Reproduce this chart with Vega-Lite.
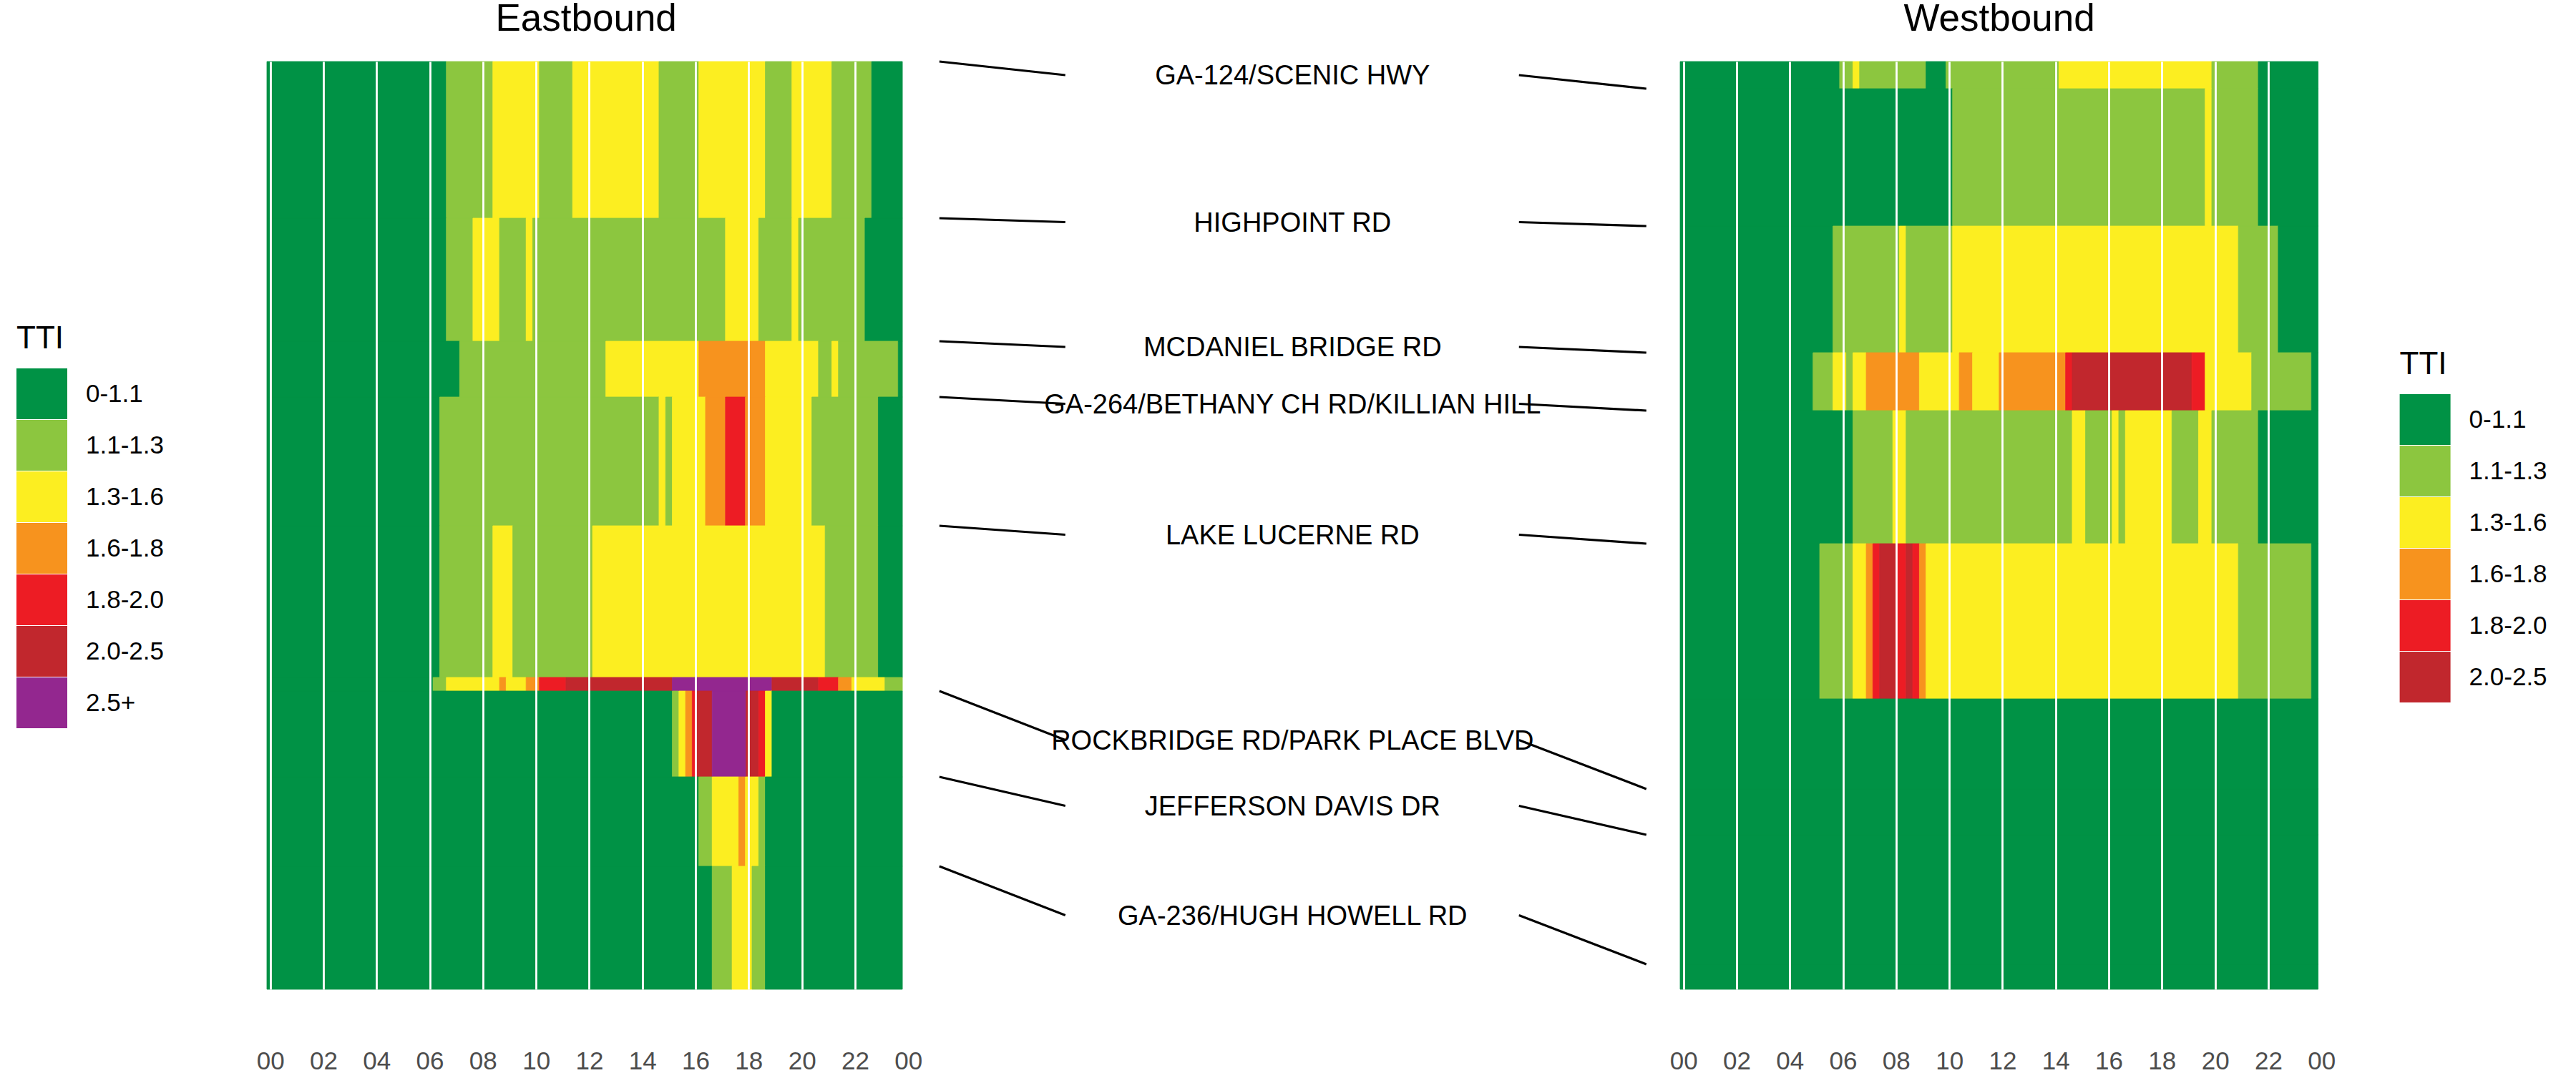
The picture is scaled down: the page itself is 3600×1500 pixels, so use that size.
{
  "$schema": "https://vega.github.io/schema/vega-lite/v6.json",
  "background": "white",
  "padding": {"left": 23, "top": 0, "right": 20, "bottom": 0},
  "bounds": "flush",
  "spacing": 40,
  "config": {
    "font": "Liberation Sans",
    "view": {"stroke": null},
    "legend": {
      "titleFontSize": 44,
      "titleFontWeight": "normal",
      "titleColor": "black",
      "titlePadding": 19,
      "labelFontSize": 35,
      "labelColor": "black",
      "labelOffset": 26,
      "labelLimit": 400,
      "symbolType": "square",
      "symbolSize": 5041,
      "symbolStrokeWidth": 0,
      "symbolOpacity": 1,
      "rowPadding": 1,
      "padding": 0
    }
  },
  "datasets": {
    "eastbound": [
      {"seg": "A", "d0": 0, "d1": 2.19, "t0": -0.125, "t1": 6.625, "tti": "0-1.1"},
      {"seg": "A", "d0": 0, "d1": 2.19, "t0": 6.625, "t1": 8.375, "tti": "1.1-1.3"},
      {"seg": "A", "d0": 0, "d1": 2.19, "t0": 8.375, "t1": 10.125, "tti": "1.3-1.6"},
      {"seg": "A", "d0": 0, "d1": 2.19, "t0": 10.125, "t1": 11.375, "tti": "1.1-1.3"},
      {"seg": "A", "d0": 0, "d1": 2.19, "t0": 11.375, "t1": 14.625, "tti": "1.3-1.6"},
      {"seg": "A", "d0": 0, "d1": 2.19, "t0": 14.625, "t1": 16.125, "tti": "1.1-1.3"},
      {"seg": "A", "d0": 0, "d1": 2.19, "t0": 16.125, "t1": 18.625, "tti": "1.3-1.6"},
      {"seg": "A", "d0": 0, "d1": 2.19, "t0": 18.625, "t1": 19.625, "tti": "1.1-1.3"},
      {"seg": "A", "d0": 0, "d1": 2.19, "t0": 19.625, "t1": 21.125, "tti": "1.3-1.6"},
      {"seg": "A", "d0": 0, "d1": 2.19, "t0": 21.125, "t1": 22.625, "tti": "1.1-1.3"},
      {"seg": "A", "d0": 0, "d1": 2.19, "t0": 22.625, "t1": 23.78, "tti": "0-1.1"},

      {"seg": "B", "d0": 2.19, "d1": 3.91, "t0": -0.125, "t1": 6.625, "tti": "0-1.1"},
      {"seg": "B", "d0": 2.19, "d1": 3.91, "t0": 6.625, "t1": 7.625, "tti": "1.1-1.3"},
      {"seg": "B", "d0": 2.19, "d1": 3.91, "t0": 7.625, "t1": 8.625, "tti": "1.3-1.6"},
      {"seg": "B", "d0": 2.19, "d1": 3.91, "t0": 8.625, "t1": 9.625, "tti": "1.1-1.3"},
      {"seg": "B", "d0": 2.19, "d1": 3.91, "t0": 9.625, "t1": 9.875, "tti": "1.3-1.6"},
      {"seg": "B", "d0": 2.19, "d1": 3.91, "t0": 9.875, "t1": 17.125, "tti": "1.1-1.3"},
      {"seg": "B", "d0": 2.19, "d1": 3.91, "t0": 17.125, "t1": 18.375, "tti": "1.3-1.6"},
      {"seg": "B", "d0": 2.19, "d1": 3.91, "t0": 18.375, "t1": 19.625, "tti": "1.1-1.3"},
      {"seg": "B", "d0": 2.19, "d1": 3.91, "t0": 19.625, "t1": 19.875, "tti": "1.3-1.6"},
      {"seg": "B", "d0": 2.19, "d1": 3.91, "t0": 19.875, "t1": 22.375, "tti": "1.1-1.3"},
      {"seg": "B", "d0": 2.19, "d1": 3.91, "t0": 22.375, "t1": 23.78, "tti": "0-1.1"},

      {"seg": "C", "d0": 3.91, "d1": 4.69, "t0": -0.125, "t1": 7.125, "tti": "0-1.1"},
      {"seg": "C", "d0": 3.91, "d1": 4.69, "t0": 7.125, "t1": 12.625, "tti": "1.1-1.3"},
      {"seg": "C", "d0": 3.91, "d1": 4.69, "t0": 12.625, "t1": 16.125, "tti": "1.3-1.6"},
      {"seg": "C", "d0": 3.91, "d1": 4.69, "t0": 16.125, "t1": 18.625, "tti": "1.6-1.8"},
      {"seg": "C", "d0": 3.91, "d1": 4.69, "t0": 18.625, "t1": 20.625, "tti": "1.3-1.6"},
      {"seg": "C", "d0": 3.91, "d1": 4.69, "t0": 20.625, "t1": 21.125, "tti": "1.1-1.3"},
      {"seg": "C", "d0": 3.91, "d1": 4.69, "t0": 21.125, "t1": 21.375, "tti": "1.3-1.6"},
      {"seg": "C", "d0": 3.91, "d1": 4.69, "t0": 21.375, "t1": 23.625, "tti": "1.1-1.3"},
      {"seg": "C", "d0": 3.91, "d1": 4.69, "t0": 23.625, "t1": 23.78, "tti": "0-1.1"},

      {"seg": "D", "d0": 4.69, "d1": 6.49, "t0": -0.125, "t1": 6.375, "tti": "0-1.1"},
      {"seg": "D", "d0": 4.69, "d1": 6.49, "t0": 6.375, "t1": 14.625, "tti": "1.1-1.3"},
      {"seg": "D", "d0": 4.69, "d1": 6.49, "t0": 14.625, "t1": 14.875, "tti": "1.3-1.6"},
      {"seg": "D", "d0": 4.69, "d1": 6.49, "t0": 14.875, "t1": 15.125, "tti": "1.1-1.3"},
      {"seg": "D", "d0": 4.69, "d1": 6.49, "t0": 15.125, "t1": 16.375, "tti": "1.3-1.6"},
      {"seg": "D", "d0": 4.69, "d1": 6.49, "t0": 16.375, "t1": 17.125, "tti": "1.6-1.8"},
      {"seg": "D", "d0": 4.69, "d1": 6.49, "t0": 17.125, "t1": 17.875, "tti": "1.8-2.0"},
      {"seg": "D", "d0": 4.69, "d1": 6.49, "t0": 17.875, "t1": 18.625, "tti": "1.6-1.8"},
      {"seg": "D", "d0": 4.69, "d1": 6.49, "t0": 18.625, "t1": 20.375, "tti": "1.3-1.6"},
      {"seg": "D", "d0": 4.69, "d1": 6.49, "t0": 20.375, "t1": 22.875, "tti": "1.1-1.3"},
      {"seg": "D", "d0": 4.69, "d1": 6.49, "t0": 22.875, "t1": 23.78, "tti": "0-1.1"},

      {"seg": "E", "d0": 6.49, "d1": 8.61, "t0": -0.125, "t1": 6.375, "tti": "0-1.1"},
      {"seg": "E", "d0": 6.49, "d1": 8.61, "t0": 6.375, "t1": 8.375, "tti": "1.1-1.3"},
      {"seg": "E", "d0": 6.49, "d1": 8.61, "t0": 8.375, "t1": 9.125, "tti": "1.3-1.6"},
      {"seg": "E", "d0": 6.49, "d1": 8.61, "t0": 9.125, "t1": 12.125, "tti": "1.1-1.3"},
      {"seg": "E", "d0": 6.49, "d1": 8.61, "t0": 12.125, "t1": 20.875, "tti": "1.3-1.6"},
      {"seg": "E", "d0": 6.49, "d1": 8.61, "t0": 20.875, "t1": 22.875, "tti": "1.1-1.3"},
      {"seg": "E", "d0": 6.49, "d1": 8.61, "t0": 22.875, "t1": 23.78, "tti": "0-1.1"},

      {"seg": "F", "d0": 8.61, "d1": 8.8, "t0": -0.125, "t1": 6.125, "tti": "0-1.1"},
      {"seg": "F", "d0": 8.61, "d1": 8.8, "t0": 6.125, "t1": 6.625, "tti": "1.1-1.3"},
      {"seg": "F", "d0": 8.61, "d1": 8.8, "t0": 6.625, "t1": 8.625, "tti": "1.3-1.6"},
      {"seg": "F", "d0": 8.61, "d1": 8.8, "t0": 8.625, "t1": 8.875, "tti": "1.6-1.8"},
      {"seg": "F", "d0": 8.61, "d1": 8.8, "t0": 8.875, "t1": 9.625, "tti": "1.3-1.6"},
      {"seg": "F", "d0": 8.61, "d1": 8.8, "t0": 9.625, "t1": 10.125, "tti": "1.6-1.8"},
      {"seg": "F", "d0": 8.61, "d1": 8.8, "t0": 10.125, "t1": 11.125, "tti": "1.8-2.0"},
      {"seg": "F", "d0": 8.61, "d1": 8.8, "t0": 11.125, "t1": 15.125, "tti": "2.0-2.5"},
      {"seg": "F", "d0": 8.61, "d1": 8.8, "t0": 15.125, "t1": 18.875, "tti": "2.5+"},
      {"seg": "F", "d0": 8.61, "d1": 8.8, "t0": 18.875, "t1": 20.625, "tti": "2.0-2.5"},
      {"seg": "F", "d0": 8.61, "d1": 8.8, "t0": 20.625, "t1": 21.375, "tti": "1.8-2.0"},
      {"seg": "F", "d0": 8.61, "d1": 8.8, "t0": 21.375, "t1": 21.875, "tti": "1.6-1.8"},
      {"seg": "F", "d0": 8.61, "d1": 8.8, "t0": 21.875, "t1": 23.125, "tti": "1.3-1.6"},
      {"seg": "F", "d0": 8.61, "d1": 8.8, "t0": 23.125, "t1": 23.78, "tti": "1.1-1.3"},

      {"seg": "G", "d0": 8.8, "d1": 10.0, "t0": -0.125, "t1": 15.125, "tti": "0-1.1"},
      {"seg": "G", "d0": 8.8, "d1": 10.0, "t0": 15.125, "t1": 15.375, "tti": "1.1-1.3"},
      {"seg": "G", "d0": 8.8, "d1": 10.0, "t0": 15.375, "t1": 15.625, "tti": "1.3-1.6"},
      {"seg": "G", "d0": 8.8, "d1": 10.0, "t0": 15.625, "t1": 15.875, "tti": "1.6-1.8"},
      {"seg": "G", "d0": 8.8, "d1": 10.0, "t0": 15.875, "t1": 16.0, "tti": "1.8-2.0"},
      {"seg": "G", "d0": 8.8, "d1": 10.0, "t0": 16.0, "t1": 16.625, "tti": "2.0-2.5"},
      {"seg": "G", "d0": 8.8, "d1": 10.0, "t0": 16.625, "t1": 17.9, "tti": "2.5+"},
      {"seg": "G", "d0": 8.8, "d1": 10.0, "t0": 17.9, "t1": 18.375, "tti": "2.0-2.5"},
      {"seg": "G", "d0": 8.8, "d1": 10.0, "t0": 18.375, "t1": 18.625, "tti": "1.8-2.0"},
      {"seg": "G", "d0": 8.8, "d1": 10.0, "t0": 18.625, "t1": 18.875, "tti": "1.3-1.6"},
      {"seg": "G", "d0": 8.8, "d1": 10.0, "t0": 18.875, "t1": 23.78, "tti": "0-1.1"},

      {"seg": "H", "d0": 10.0, "d1": 11.25, "t0": -0.125, "t1": 16.125, "tti": "0-1.1"},
      {"seg": "H", "d0": 10.0, "d1": 11.25, "t0": 16.125, "t1": 16.625, "tti": "1.1-1.3"},
      {"seg": "H", "d0": 10.0, "d1": 11.25, "t0": 16.625, "t1": 17.625, "tti": "1.3-1.6"},
      {"seg": "H", "d0": 10.0, "d1": 11.25, "t0": 17.625, "t1": 17.875, "tti": "1.6-1.8"},
      {"seg": "H", "d0": 10.0, "d1": 11.25, "t0": 17.875, "t1": 18.375, "tti": "1.3-1.6"},
      {"seg": "H", "d0": 10.0, "d1": 11.25, "t0": 18.375, "t1": 18.625, "tti": "1.1-1.3"},
      {"seg": "H", "d0": 10.0, "d1": 11.25, "t0": 18.625, "t1": 23.78, "tti": "0-1.1"},

      {"seg": "I", "d0": 11.25, "d1": 12.97, "t0": -0.125, "t1": 16.625, "tti": "0-1.1"},
      {"seg": "I", "d0": 11.25, "d1": 12.97, "t0": 16.625, "t1": 17.375, "tti": "1.1-1.3"},
      {"seg": "I", "d0": 11.25, "d1": 12.97, "t0": 17.375, "t1": 18.125, "tti": "1.3-1.6"},
      {"seg": "I", "d0": 11.25, "d1": 12.97, "t0": 18.125, "t1": 18.625, "tti": "1.1-1.3"},
      {"seg": "I", "d0": 11.25, "d1": 12.97, "t0": 18.625, "t1": 23.78, "tti": "0-1.1"}
    ],
    "westbound": [
      {"seg": "A", "d0": 0, "d1": 0.38, "t0": -0.125, "t1": 5.875, "tti": "0-1.1"},
      {"seg": "A", "d0": 0, "d1": 0.38, "t0": 5.875, "t1": 6.375, "tti": "1.1-1.3"},
      {"seg": "A", "d0": 0, "d1": 0.38, "t0": 6.375, "t1": 6.625, "tti": "1.3-1.6"},
      {"seg": "A", "d0": 0, "d1": 0.38, "t0": 6.625, "t1": 9.125, "tti": "1.1-1.3"},
      {"seg": "A", "d0": 0, "d1": 0.38, "t0": 9.125, "t1": 9.875, "tti": "0-1.1"},
      {"seg": "A", "d0": 0, "d1": 0.38, "t0": 9.875, "t1": 14.125, "tti": "1.1-1.3"},
      {"seg": "A", "d0": 0, "d1": 0.38, "t0": 14.125, "t1": 19.875, "tti": "1.3-1.6"},
      {"seg": "A", "d0": 0, "d1": 0.38, "t0": 19.875, "t1": 21.625, "tti": "1.1-1.3"},
      {"seg": "A", "d0": 0, "d1": 0.38, "t0": 21.625, "t1": 23.875, "tti": "0-1.1"},

      {"seg": "B", "d0": 0.38, "d1": 2.3, "t0": -0.125, "t1": 10.125, "tti": "0-1.1"},
      {"seg": "B", "d0": 0.38, "d1": 2.3, "t0": 10.125, "t1": 19.625, "tti": "1.1-1.3"},
      {"seg": "B", "d0": 0.38, "d1": 2.3, "t0": 19.625, "t1": 19.875, "tti": "1.3-1.6"},
      {"seg": "B", "d0": 0.38, "d1": 2.3, "t0": 19.875, "t1": 21.625, "tti": "1.1-1.3"},
      {"seg": "B", "d0": 0.38, "d1": 2.3, "t0": 21.625, "t1": 23.875, "tti": "0-1.1"},

      {"seg": "C", "d0": 2.3, "d1": 4.07, "t0": -0.125, "t1": 5.625, "tti": "0-1.1"},
      {"seg": "C", "d0": 2.3, "d1": 4.07, "t0": 5.625, "t1": 8.125, "tti": "1.1-1.3"},
      {"seg": "C", "d0": 2.3, "d1": 4.07, "t0": 8.125, "t1": 8.375, "tti": "1.3-1.6"},
      {"seg": "C", "d0": 2.3, "d1": 4.07, "t0": 8.375, "t1": 10.125, "tti": "1.1-1.3"},
      {"seg": "C", "d0": 2.3, "d1": 4.07, "t0": 10.125, "t1": 20.875, "tti": "1.3-1.6"},
      {"seg": "C", "d0": 2.3, "d1": 4.07, "t0": 20.875, "t1": 22.375, "tti": "1.1-1.3"},
      {"seg": "C", "d0": 2.3, "d1": 4.07, "t0": 22.375, "t1": 23.875, "tti": "0-1.1"},

      {"seg": "D", "d0": 4.07, "d1": 4.88, "t0": -0.125, "t1": 4.875, "tti": "0-1.1"},
      {"seg": "D", "d0": 4.07, "d1": 4.88, "t0": 4.875, "t1": 5.625, "tti": "1.1-1.3"},
      {"seg": "D", "d0": 4.07, "d1": 4.88, "t0": 5.625, "t1": 6.125, "tti": "1.3-1.6"},
      {"seg": "D", "d0": 4.07, "d1": 4.88, "t0": 6.125, "t1": 6.375, "tti": "1.1-1.3"},
      {"seg": "D", "d0": 4.07, "d1": 4.88, "t0": 6.375, "t1": 6.875, "tti": "1.3-1.6"},
      {"seg": "D", "d0": 4.07, "d1": 4.88, "t0": 6.875, "t1": 8.875, "tti": "1.6-1.8"},
      {"seg": "D", "d0": 4.07, "d1": 4.88, "t0": 8.875, "t1": 10.375, "tti": "1.3-1.6"},
      {"seg": "D", "d0": 4.07, "d1": 4.88, "t0": 10.375, "t1": 10.875, "tti": "1.6-1.8"},
      {"seg": "D", "d0": 4.07, "d1": 4.88, "t0": 10.875, "t1": 11.875, "tti": "1.3-1.6"},
      {"seg": "D", "d0": 4.07, "d1": 4.88, "t0": 11.875, "t1": 14.375, "tti": "1.6-1.8"},
      {"seg": "D", "d0": 4.07, "d1": 4.88, "t0": 14.375, "t1": 14.625, "tti": "1.8-2.0"},
      {"seg": "D", "d0": 4.07, "d1": 4.88, "t0": 14.625, "t1": 19.125, "tti": "2.0-2.5"},
      {"seg": "D", "d0": 4.07, "d1": 4.88, "t0": 19.125, "t1": 19.625, "tti": "1.8-2.0"},
      {"seg": "D", "d0": 4.07, "d1": 4.88, "t0": 19.625, "t1": 21.375, "tti": "1.3-1.6"},
      {"seg": "D", "d0": 4.07, "d1": 4.88, "t0": 21.375, "t1": 23.625, "tti": "1.1-1.3"},
      {"seg": "D", "d0": 4.07, "d1": 4.88, "t0": 23.625, "t1": 23.875, "tti": "0-1.1"},

      {"seg": "E", "d0": 4.88, "d1": 6.74, "t0": -0.125, "t1": 6.375, "tti": "0-1.1"},
      {"seg": "E", "d0": 4.88, "d1": 6.74, "t0": 6.375, "t1": 7.875, "tti": "1.1-1.3"},
      {"seg": "E", "d0": 4.88, "d1": 6.74, "t0": 7.875, "t1": 8.375, "tti": "1.3-1.6"},
      {"seg": "E", "d0": 4.88, "d1": 6.74, "t0": 8.375, "t1": 14.625, "tti": "1.1-1.3"},
      {"seg": "E", "d0": 4.88, "d1": 6.74, "t0": 14.625, "t1": 15.125, "tti": "1.3-1.6"},
      {"seg": "E", "d0": 4.88, "d1": 6.74, "t0": 15.125, "t1": 16.125, "tti": "1.1-1.3"},
      {"seg": "E", "d0": 4.88, "d1": 6.74, "t0": 16.125, "t1": 16.375, "tti": "1.3-1.6"},
      {"seg": "E", "d0": 4.88, "d1": 6.74, "t0": 16.375, "t1": 16.625, "tti": "1.1-1.3"},
      {"seg": "E", "d0": 4.88, "d1": 6.74, "t0": 16.625, "t1": 18.375, "tti": "1.3-1.6"},
      {"seg": "E", "d0": 4.88, "d1": 6.74, "t0": 18.375, "t1": 19.375, "tti": "1.1-1.3"},
      {"seg": "E", "d0": 4.88, "d1": 6.74, "t0": 19.375, "t1": 19.875, "tti": "1.3-1.6"},
      {"seg": "E", "d0": 4.88, "d1": 6.74, "t0": 19.875, "t1": 21.625, "tti": "1.1-1.3"},
      {"seg": "E", "d0": 4.88, "d1": 6.74, "t0": 21.625, "t1": 23.875, "tti": "0-1.1"},

      {"seg": "F", "d0": 6.74, "d1": 8.91, "t0": -0.125, "t1": 5.125, "tti": "0-1.1"},
      {"seg": "F", "d0": 6.74, "d1": 8.91, "t0": 5.125, "t1": 6.375, "tti": "1.1-1.3"},
      {"seg": "F", "d0": 6.74, "d1": 8.91, "t0": 6.375, "t1": 6.875, "tti": "1.3-1.6"},
      {"seg": "F", "d0": 6.74, "d1": 8.91, "t0": 6.875, "t1": 7.125, "tti": "1.6-1.8"},
      {"seg": "F", "d0": 6.74, "d1": 8.91, "t0": 7.125, "t1": 7.375, "tti": "1.8-2.0"},
      {"seg": "F", "d0": 6.74, "d1": 8.91, "t0": 7.375, "t1": 8.0, "tti": "2.0-2.5"},
      {"seg": "F", "d0": 6.74, "d1": 8.91, "t0": 8.0, "t1": 8.375, "tti": "1.8-2.0"},
      {"seg": "F", "d0": 6.74, "d1": 8.91, "t0": 8.375, "t1": 8.625, "tti": "2.0-2.5"},
      {"seg": "F", "d0": 6.74, "d1": 8.91, "t0": 8.625, "t1": 8.875, "tti": "1.8-2.0"},
      {"seg": "F", "d0": 6.74, "d1": 8.91, "t0": 8.875, "t1": 9.125, "tti": "1.6-1.8"},
      {"seg": "F", "d0": 6.74, "d1": 8.91, "t0": 9.125, "t1": 20.875, "tti": "1.3-1.6"},
      {"seg": "F", "d0": 6.74, "d1": 8.91, "t0": 20.875, "t1": 23.625, "tti": "1.1-1.3"},
      {"seg": "F", "d0": 6.74, "d1": 8.91, "t0": 23.625, "t1": 23.875, "tti": "0-1.1"},

      {"seg": "G", "d0": 8.91, "d1": 10.17, "t0": -0.125, "t1": 23.875, "tti": "0-1.1"},
      {"seg": "H", "d0": 10.17, "d1": 10.81, "t0": -0.125, "t1": 23.875, "tti": "0-1.1"},
      {"seg": "I", "d0": 10.81, "d1": 12.62, "t0": -0.125, "t1": 23.875, "tti": "0-1.1"},
      {"seg": "J", "d0": 12.62, "d1": 12.97, "t0": -0.125, "t1": 23.875, "tti": "0-1.1"}
    ],
    "crossStreets": [
      {"name": "GA-124/SCENIC HWY", "eb": 0, "lab": 0.19, "wb": 0.38},
      {"name": "HIGHPOINT RD", "eb": 2.19, "lab": 2.245, "wb": 2.3},
      {"name": "MCDANIEL BRIDGE RD", "eb": 3.91, "lab": 3.99, "wb": 4.07},
      {"name": "GA-264/BETHANY CH RD/KILLIAN HILL", "eb": 4.69, "lab": 4.785, "wb": 4.88},
      {"name": "LAKE LUCERNE RD", "eb": 6.49, "lab": 6.615, "wb": 6.74},
      {"name": "ROCKBRIDGE RD/PARK PLACE BLVD", "eb": 8.8, "lab": 9.485, "wb": 10.17},
      {"name": "JEFFERSON DAVIS DR", "eb": 10.0, "lab": 10.405, "wb": 10.81},
      {"name": "GA-236/HUGH HOWELL RD", "eb": 11.25, "lab": 11.935, "wb": 12.62}
    ]
  },
  "hconcat": [
    {
      "width": 896.24,
      "height": 1297,
      "title": {
        "text": "Eastbound",
        "fontSize": 53,
        "fontWeight": "normal",
        "color": "black",
        "anchor": "middle",
        "frame": "group",
        "baseline": "alphabetic",
        "offset": -10,
        "dx": -2
      },
      "data": {"name": "eastbound"},
      "mark": {"type": "rect", "strokeWidth": 0.8},
      "encoding": {
        "x": {
          "field": "t0",
          "type": "quantitative",
          "scale": {"domain": [-0.125, 24], "nice": false, "zero": false},
          "axis": {
            "values": [0, 2, 4, 6, 8, 10, 12, 14, 16, 18, 20, 22, 24],
            "labelExpr": "format(datum.value % 24, '02d')",
            "title": null,
            "domain": false,
            "ticks": false,
            "tickSize": 0,
            "grid": true,
            "gridColor": "white",
            "gridWidth": 2.8,
            "gridOpacity": 1,
            "zindex": 1,
            "labelFontSize": 35,
            "labelColor": "#4D4D4D",
            "labelPadding": 83,
            "labelFlush": false,
            "labelOverlap": false
          }
        },
        "x2": {"field": "t1"},
        "y": {
          "field": "d0",
          "type": "quantitative",
          "scale": {"domain": [0, 12.97], "reverse": true, "nice": false, "zero": false},
          "axis": null
        },
        "y2": {"field": "d1"},
        "color": {
          "field": "tti",
          "type": "nominal",
          "scale": {
            "domain": ["0-1.1", "1.1-1.3", "1.3-1.6", "1.6-1.8", "1.8-2.0", "2.0-2.5", "2.5+"],
            "range": ["#009245", "#8CC63F", "#FCEE21", "#F7931E", "#ED1C24", "#C1272D", "#93278F"]
          },
          "legend": {"title": "TTI", "orient": "none", "legendX": -350, "legendY": 366}
        },
        "stroke": {
          "field": "tti",
          "type": "nominal",
          "scale": {
            "domain": ["0-1.1", "1.1-1.3", "1.3-1.6", "1.6-1.8", "1.8-2.0", "2.0-2.5", "2.5+"],
            "range": ["#009245", "#8CC63F", "#FCEE21", "#F7931E", "#ED1C24", "#C1272D", "#93278F"]
          },
          "legend": null
        }
      }
    },
    {
      "width": 997.16,
      "height": 1297,
      "data": {"name": "crossStreets"},
      "layer": [
        {
          "mark": {"type": "text", "fontSize": 38, "baseline": "middle", "align": "center", "dy": 2, "color": "black"},
          "encoding": {
            "x": {"datum": 0.4977, "type": "quantitative", "scale": {"domain": [0, 1], "nice": false}, "axis": null},
            "y": {"field": "lab", "type": "quantitative", "scale": {"domain": [0, 12.97], "reverse": true, "nice": false, "zero": false}, "axis": null},
            "text": {"field": "name"}
          }
        },
        {
          "mark": {"type": "rule", "strokeWidth": 3.2, "color": "black"},
          "encoding": {
            "x": {"datum": 0.0028, "type": "quantitative", "scale": {"domain": [0, 1], "nice": false}, "axis": null},
            "x2": {"datum": 0.1793},
            "y": {"field": "eb", "type": "quantitative", "scale": {"domain": [0, 12.97], "reverse": true, "nice": false, "zero": false}, "axis": null},
            "y2": {"field": "lab"}
          }
        },
        {
          "mark": {"type": "rule", "strokeWidth": 3.2, "color": "black"},
          "encoding": {
            "x": {"datum": 0.8151, "type": "quantitative", "scale": {"domain": [0, 1], "nice": false}, "axis": null},
            "x2": {"datum": 0.9936},
            "y": {"field": "lab", "type": "quantitative", "scale": {"domain": [0, 12.97], "reverse": true, "nice": false, "zero": false}, "axis": null},
            "y2": {"field": "wb"}
          }
        }
      ]
    },
    {
      "width": 896.24,
      "height": 1297,
      "title": {
        "text": "Westbound",
        "fontSize": 53,
        "fontWeight": "normal",
        "color": "black",
        "anchor": "middle",
        "frame": "group",
        "baseline": "alphabetic",
        "offset": -10,
        "dx": -2
      },
      "data": {"name": "westbound"},
      "mark": {"type": "rect", "strokeWidth": 0.8},
      "encoding": {
        "x": {
          "field": "t0",
          "type": "quantitative",
          "scale": {"domain": [-0.125, 24], "nice": false, "zero": false},
          "axis": {
            "values": [0, 2, 4, 6, 8, 10, 12, 14, 16, 18, 20, 22, 24],
            "labelExpr": "format(datum.value % 24, '02d')",
            "title": null,
            "domain": false,
            "ticks": false,
            "tickSize": 0,
            "grid": true,
            "gridColor": "white",
            "gridWidth": 2.8,
            "gridOpacity": 1,
            "zindex": 1,
            "labelFontSize": 35,
            "labelColor": "#4D4D4D",
            "labelPadding": 83,
            "labelFlush": false,
            "labelOverlap": false
          }
        },
        "x2": {"field": "t1"},
        "y": {
          "field": "d0",
          "type": "quantitative",
          "scale": {"domain": [0, 12.97], "reverse": true, "nice": false, "zero": false},
          "axis": null
        },
        "y2": {"field": "d1"},
        "color": {
          "field": "tti",
          "type": "nominal",
          "scale": {
            "domain": ["0-1.1", "1.1-1.3", "1.3-1.6", "1.6-1.8", "1.8-2.0", "2.0-2.5"],
            "range": ["#009245", "#8CC63F", "#FCEE21", "#F7931E", "#ED1C24", "#C1272D"]
          },
          "legend": {"title": "TTI", "orient": "none", "legendX": 1005.6, "legendY": 402}
        },
        "stroke": {
          "field": "tti",
          "type": "nominal",
          "scale": {
            "domain": ["0-1.1", "1.1-1.3", "1.3-1.6", "1.6-1.8", "1.8-2.0", "2.0-2.5"],
            "range": ["#009245", "#8CC63F", "#FCEE21", "#F7931E", "#ED1C24", "#C1272D"]
          },
          "legend": null
        }
      }
    }
  ],
  "resolve": {
    "scale": {"x": "independent", "y": "independent", "color": "independent", "stroke": "independent"},
    "legend": {"color": "independent", "stroke": "independent"}
  }
}
